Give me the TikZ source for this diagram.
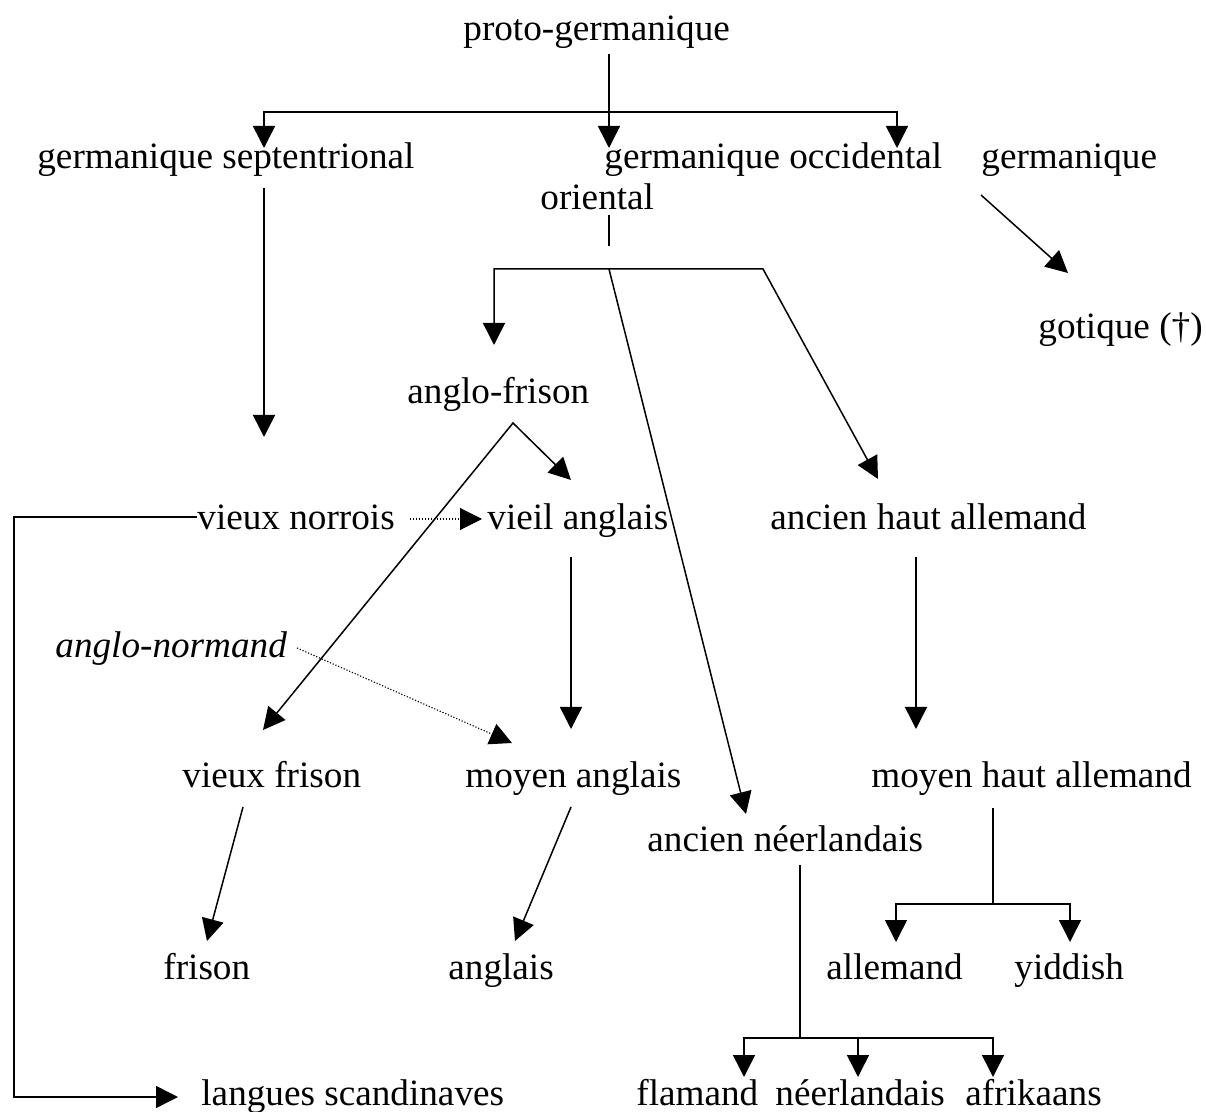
\documentclass[tikz,border=0pt]{standalone}
\usepackage{fontspec}
\setmainfont{Liberation Serif}
\usetikzlibrary{arrows.meta}
\begin{document}
\begin{tikzpicture}[x=0.5pt,y=-0.5pt,
  lbl/.style={anchor=base west,inner sep=0pt,font=\fontsize{18.6}{22}\selectfont},
  conn/.style={line width=0.75pt},
  tip/.tip={Triangle[length=11pt,width=11pt]},
  arr/.style={conn,-tip},
  barr/.style={conn,tip-tip},
  dotarr/.style={line width=0.55pt,dash pattern=on 0.6pt off 0.9pt,-tip}]
\useasboundingbox (0,0) rectangle (1206,1112);
% texts
\node[lbl] (proto) at (463,41) {proto-germanique};
\node[lbl] (gsept) at (37,169) {germanique septentrional};
\node[lbl] (gocc) at (604,169) {germanique occidental};
\node[lbl] (gor1) at (981,169) {germanique};
\node[lbl] (gor2) at (540,210) {oriental};
\node[lbl] (gotique) at (1038,339) {gotique (†)};
\node[lbl] (afrison) at (407,404) {anglo-frison};
\node[lbl] (vnorrois) at (197,530) {vieux norrois};
\node[lbl] (vanglais) at (487,530) {vieil anglais};
\node[lbl] (aha) at (770,530) {ancien haut allemand};
\node[lbl] (anormand) at (55,658) {\itshape anglo-normand};
\node[lbl] (vfrison) at (182,787) {vieux frison};
\node[lbl] (manglais) at (465,787) {moyen anglais};
\node[lbl] (mha) at (871,787) {moyen haut allemand};
\node[lbl] (aneer) at (647,851) {ancien néerlandais};
\node[lbl] (frison) at (163,979) {frison};
\node[lbl] (anglais) at (448,979) {anglais};
\node[lbl] (allemand) at (826,979) {allemand};
\node[lbl] (yiddish) at (1014,979) {yiddish};
\node[lbl] (lscand) at (201,1105) {langues scandinaves};
\node[lbl] (flamand) at (636,1105) {flamand};
\node[lbl] (neer) at (775,1105) {néerlandais};
\node[lbl] (afrik) at (965,1105) {afrikaans};
% connectors
\draw[arr] (609,54) -- (609,148);
\draw[barr] (264,148) -- (264,112) -- (897,112) -- (897,148);
\draw[arr] (264,188) -- (264,437);
\draw[conn] (609,215) -- (609,246);
\draw[barr] (494,345) -- (494,269) -- (763,269) -- (878,479);
\draw[arr] (609,269) -- (746,814);
\draw[arr] (981,195) -- (1068,273);
\draw[barr] (263,730) -- (513,423) -- (571,480);
\draw[arr] (197,517) -- (14,517) -- (14,1097) -- (178,1097);
\draw[dotarr] (410,519) -- (482,519);
\draw[arr] (571,557) -- (571,729);
\draw[arr] (916,557) -- (916,729);
\draw[dotarr] (297,648) -- (512,743);
\draw[arr] (243,807) -- (207,941);
\draw[arr] (571,807) -- (515,941);
\draw[conn] (993,808) -- (993,904);
\draw[barr] (896,942) -- (896,904) -- (1070,904) -- (1070,942);
\draw[conn] (800,865) -- (800,1038);
\draw[barr] (744,1077) -- (744,1038) -- (993,1038) -- (993,1077);
\draw[arr] (858,1038) -- (858,1077);
\end{tikzpicture}
\end{document}
